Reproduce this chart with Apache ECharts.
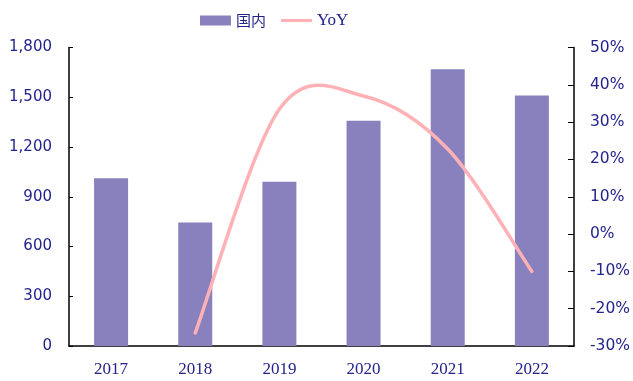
<!DOCTYPE html>
<html>
<head>
<meta charset="utf-8">
<style>
  html, body { margin: 0; padding: 0; background: #fff; }
  #chart { width: 633px; height: 381px; }
</style>
<script src="https://cdn.jsdelivr.net/npm/echarts@6/dist/echarts.min.js"></script>
</head>
<body>
<div id="chart"></div>
<script>
// Annual volume (bars, left axis) and year-over-year growth in % (line, right axis)
const years = ['2017', '2018', '2019', '2020', '2021', '2022'];
const domestic = [1011, 744, 991, 1359, 1669, 1510];
const yoy = [null, -26.5, 33.5, 37.0, 22.8, -10.0];

const labelColor = '#23238C';
const serif = '"Liberation Serif", "Times New Roman", serif';
const sans = '"DejaVu Sans", Verdana, sans-serif';
const cjk = '"Noto Sans CJK SC", sans-serif';
const lineColor = '#FFB1B5';

// YoY points as [categoryIndex, value], skipping the first year (no prior year)
const yoyPoints = yoy.map((v, i) => [i, v]).filter(p => p[1] !== null);

// Cardinal (Catmull-Rom style) curve through the projected points
function curvePath(pts) {
  let d = 'M' + pts[0][0] + ',' + pts[0][1];
  for (let i = 0; i < pts.length - 1; i++) {
    const p0 = pts[Math.max(i - 1, 0)];
    const p1 = pts[i];
    const p2 = pts[i + 1];
    const p3 = pts[Math.min(i + 2, pts.length - 1)];
    const c1x = p1[0] + (p2[0] - p0[0]) / 6;
    const c1y = p1[1] + (p2[1] - p0[1]) / 6;
    const c2x = p2[0] - (p3[0] - p1[0]) / 6;
    const c2y = p2[1] - (p3[1] - p1[1]) / 6;
    d += 'C' + c1x + ',' + c1y + ',' + c2x + ',' + c2y + ',' + p2[0] + ',' + p2[1];
  }
  return d;
}

const chart = echarts.init(document.getElementById('chart'), null, { renderer: 'canvas' });
chart.setOption({
  animation: false,
  legend: {
    top: 7,
    left: 195,
    itemGap: 15,
    itemWidth: 31,
    itemHeight: 10,
    formatter: name => name === '国内' ? '{cn|国内}' : '{en|YoY}',
    textStyle: {
      color: labelColor,
      rich: {
        cn: { fontFamily: cjk, fontSize: 15, color: labelColor },
        en: { fontFamily: serif, fontSize: 17, color: labelColor }
      }
    },
    data: [
      { name: '国内', icon: 'rect' },
      { name: 'YoY', icon: 'path://M0,0H31V3H0Z' }
    ]
  },
  grid: { left: 69, right: 59, top: 47.5, bottom: 35 },
  xAxis: {
    type: 'category',
    data: years,
    axisLine: { lineStyle: { color: '#000', width: 1.5 } },
    axisTick: { inside: true, length: 4, lineStyle: { color: '#000' } },
    axisLabel: { color: labelColor, fontSize: 17, margin: 15, fontFamily: serif }
  },
  yAxis: [
    {
      type: 'value',
      min: 0, max: 1800, interval: 300,
      axisLine: { show: true, lineStyle: { color: '#000', width: 1.5 } },
      axisTick: { show: true, inside: true, length: 4, lineStyle: { color: '#000' } },
      splitLine: { show: false },
      axisLabel: {
        color: labelColor, fontSize: 15, margin: 17, fontFamily: sans,
        formatter: v => v.toLocaleString('en-US')
      }
    },
    {
      type: 'value',
      min: -30, max: 50, interval: 10,
      axisLine: { show: true, lineStyle: { color: '#000', width: 1.5 } },
      axisTick: { show: true, inside: true, length: 6, lineStyle: { color: '#000' } },
      splitLine: { show: false },
      axisLabel: {
        color: labelColor, fontSize: 15.5, margin: 16, fontFamily: sans,
        formatter: v => v + '%'
      }
    }
  ],
  series: [
    {
      name: '国内',
      type: 'bar',
      data: domestic,
      barWidth: 34,
      z: 2,
      itemStyle: { color: '#8980BE' }
    },
    {
      name: 'YoY',
      type: 'custom',
      yAxisIndex: 1,
      z: 5,
      data: yoyPoints,
      encode: { x: 0, y: 1 },
      itemStyle: { color: lineColor },
      renderItem: function (params, api) {
        if (params.dataIndex !== 0) return null;
        const pts = yoyPoints.map(p => api.coord(p));
        return {
          type: 'path',
          z2: 10,
          shape: { pathData: curvePath(pts) },
          style: { fill: null, stroke: lineColor, lineWidth: 3.5, lineCap: 'round' }
        };
      }
    }
  ]
});
</script>
</body>
</html>
